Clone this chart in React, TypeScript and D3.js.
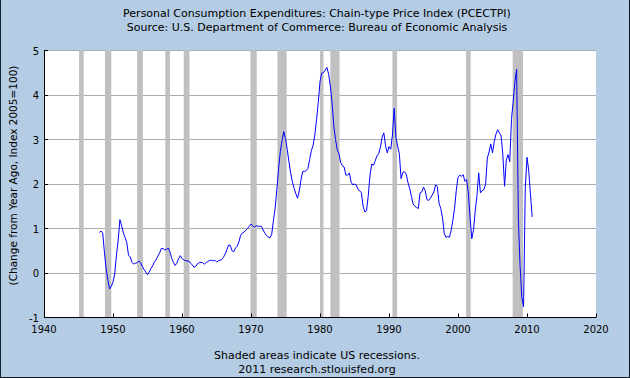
import React from "react";
import * as d3 from "d3";

const TITLE = "Personal Consumption Expenditures: Chain-type Price Index (PCECTPI)";
const SOURCE = "Source: U.S. Department of Commerce: Bureau of Economic Analysis";
const Y_LABEL = "(Change from Year Ago, Index 2005=100)";
const NOTE1 = "Shaded areas indicate US recessions.";
const NOTE2 = "2011 research.stlouisfed.org";

// Quarterly, starting 1948 Q1
const FIRST_YEAR = 1948;
const changeFromYearAgo = [
  0.91, 0.94, 0.91, 0.48,
  0.10, -0.15, -0.36, -0.30,
  -0.20, -0.02, 0.40, 0.74,
  1.20, 1.06, 0.90, 0.80,
  0.68, 0.40, 0.36, 0.24,
  0.20, 0.22, 0.23, 0.27,
  0.23, 0.15, 0.08, 0.02,
  -0.04, 0.02, 0.10, 0.16,
  0.25, 0.30, 0.38, 0.45,
  0.55, 0.55, 0.52, 0.53,
  0.56, 0.48, 0.33, 0.24,
  0.17, 0.22, 0.32, 0.39,
  0.33, 0.29, 0.28, 0.27,
  0.27, 0.22, 0.18, 0.13,
  0.15, 0.21, 0.23, 0.24,
  0.23, 0.20, 0.23, 0.26,
  0.28, 0.29, 0.27, 0.29,
  0.25, 0.27, 0.29, 0.30,
  0.35, 0.43, 0.52, 0.63,
  0.62, 0.50, 0.48, 0.56,
  0.60, 0.70, 0.85, 0.90,
  0.92, 0.96, 1.00, 1.05,
  1.10, 1.06, 1.03, 1.06,
  1.05, 1.05, 1.05, 0.97,
  0.90, 0.84, 0.81, 0.79,
  0.87, 1.18, 1.45, 1.88,
  2.35, 2.73, 2.97, 3.18,
  3.02, 2.78, 2.50, 2.24,
  2.05, 1.90, 1.78, 1.68,
  1.85, 2.10, 2.28, 2.28,
  2.30, 2.35, 2.55, 2.75,
  2.87, 3.10, 3.45, 3.83,
  4.30, 4.49, 4.50, 4.56,
  4.62, 4.47, 4.20, 3.82,
  3.30, 3.00, 2.77, 2.68,
  2.48, 2.41, 2.38, 2.20,
  2.20, 2.25, 2.05, 1.98,
  2.00, 1.98, 1.88, 1.85,
  1.80, 1.50, 1.37, 1.40,
  1.75, 2.20, 2.45, 2.42,
  2.52, 2.63, 2.68, 2.82,
  3.05, 3.15, 2.86, 2.70,
  2.84, 2.78, 3.10, 3.70,
  3.05, 2.85, 2.68, 2.12,
  2.26, 2.28, 2.22, 2.03,
  1.90, 1.72, 1.55, 1.50,
  1.47, 1.45, 1.80, 1.82,
  1.93, 1.85, 1.65, 1.63,
  1.68, 1.75, 1.82, 1.98,
  1.95, 1.57, 1.45, 1.25,
  0.90, 0.80, 0.82, 0.80,
  0.95, 1.18, 1.45, 1.85,
  2.15, 2.20, 2.17, 2.21,
  2.06, 2.10, 1.80, 1.25,
  0.77, 0.97, 1.40, 1.74,
  2.25, 1.80, 1.85, 1.87,
  2.00, 2.58, 2.72, 2.90,
  2.70, 2.95, 3.12, 3.22,
  3.15, 3.08, 2.65, 1.95,
  2.54, 2.66, 2.50, 3.45,
  3.85, 4.30, 4.58, 1.20,
  0.15, -0.55, -0.76, 1.90,
  2.60, 2.30, 1.78, 1.26,
];

// NBER recessions (peak month to trough month, as fractional years)
const recessionStart = [1945.083, 1948.833, 1953.5, 1957.583, 1960.25, 1969.917, 1973.833, 1980.0, 1981.5, 1990.5, 2001.167, 2007.917];
const recessionEnd = [1945.75, 1949.75, 1954.333, 1958.25, 1961.083, 1970.833, 1975.167, 1980.5, 1982.833, 1991.167, 2001.833, 2009.417];

const xTicks = [1940, 1950, 1960, 1970, 1980, 1990, 2000, 2010, 2020];
const yTicks = [-1, 0, 1, 2, 3, 4, 5];

const FONT = "'DejaVu Sans', Verdana, sans-serif";

export default function App() {
  const W = 630;
  const H = 378;
  const left = 44, right = 596, top = 50.5, bottom = 317.5;
  const x = d3.scaleLinear().domain([1940, 2020]).range([left, right]);
  const y = d3.scaleLinear().domain([-1, 5]).range([bottom, top]);
  const data = changeFromYearAgo.map((v, i) => ({ t: FIRST_YEAR + i / 4, v }));
  const line = d3
    .line<{ t: number; v: number }>()
    .x((d) => x(d.t))
    .y((d) => y(d.v));
  const crisp = (p: number) => Math.floor(p) + 0.5;

  return (
    <svg
      width={W}
      height={H}
      style={{ position: "absolute", left: 0, top: 0, display: "block" }}
      fontFamily={FONT}
    >
      <rect x={0} y={0} width={W} height={H} fill="#B4CCE4" />
      <line x1={0.5} y1={0} x2={0.5} y2={H} stroke="#10202e" />
      <line x1={W - 0.5} y1={0} x2={W - 0.5} y2={H} stroke="#10202e" />
      <line x1={0} y1={H - 0.5} x2={W} y2={H - 0.5} stroke="#10202e" />

      <text x={317} y={17} textAnchor="middle" fontSize={11} fill="#000">{TITLE}</text>
      <text x={317} y={31} textAnchor="middle" fontSize={11} fill="#000">{SOURCE}</text>

      <rect x={left} y={50} width={right - left} height={bottom - 50} fill="#fff" />

      {yTicks.map((t) => (
        <line key={"g" + t} x1={left} x2={right} y1={crisp(y(t))} y2={crisp(y(t))} stroke="#A8ADB5" />
      ))}

      {recessionStart.map((s, i) => (
        <rect
          key={"r" + i}
          x={x(s)}
          y={50}
          width={x(recessionEnd[i]) - x(s)}
          height={bottom - 50}
          fill="#C0C0C0"
        />
      ))}

      <path d={line(data) || ""} fill="none" stroke="#0000FF" strokeWidth={1} strokeLinejoin="round" />

      <line x1={left + 0.5} x2={left + 0.5} y1={50} y2={bottom + 0.5} stroke="#000" />
      <line x1={left} x2={right} y1={bottom} y2={bottom} stroke="#000" />

      {xTicks.map((t) => (
        <g key={"x" + t}>
          <line x1={crisp(x(t))} x2={crisp(x(t))} y1={bottom - 4} y2={bottom} stroke="#000" />
          <text x={x(t)} y={333} textAnchor="middle" fontSize={10} fill="#000">{t}</text>
        </g>
      ))}
      {yTicks.map((t) => (
        <g key={"y" + t}>
          <line x1={left} x2={left + 4} y1={crisp(y(t))} y2={crisp(y(t))} stroke="#000" />
          <text x={39} y={y(t) + 4} textAnchor="end" fontSize={10} fill="#000">{t}</text>
        </g>
      ))}

      <text
        transform={`translate(16.5,175.5) rotate(-90)`}
        textAnchor="middle"
        fontSize={10.5}
        fill="#000"
      >
        {Y_LABEL}
      </text>

      <text x={317} y={358.5} textAnchor="middle" fontSize={11} fill="#000">{NOTE1}</text>
      <text x={317} y={372.5} textAnchor="middle" fontSize={11} fill="#000">{NOTE2}</text>
    </svg>
  );
}
